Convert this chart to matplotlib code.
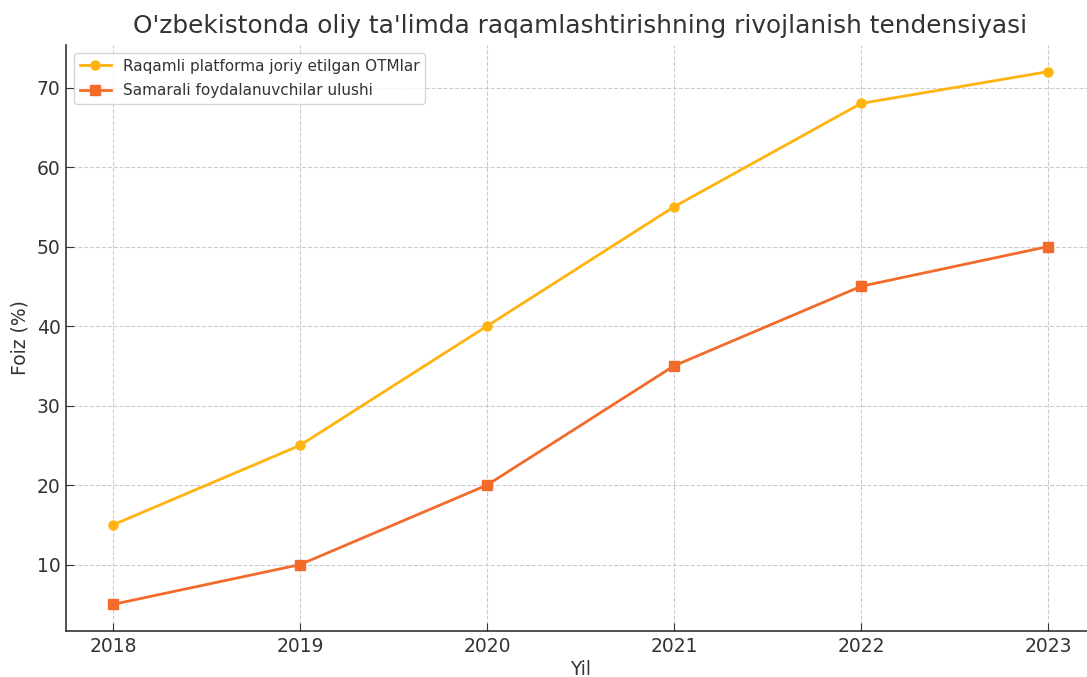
import matplotlib
matplotlib.use("Agg")
import matplotlib.pyplot as plt

years = [2018, 2019, 2020, 2021, 2022, 2023]
platform_otm = [15, 25, 40, 55, 68, 72]
samarali_ulush = [5, 10, 20, 35, 45, 50]

label_platform = "Raqamli platforma joriy etilgan OTMlar"
label_samarali = "Samarali foydalanuvchilar ulushi"
title = "O'zbekistonda oliy ta'limda raqamlashtirishning rivojlanish tendensiyasi"

plt.rcParams['font.family'] = ['DejaVu Sans']
text_col = '#333333'

fig = plt.figure(figsize=(10.87, 6.77), dpi=100)
ax = fig.add_axes([0.0609, 0.0679, 0.9462, 0.8656])

ax.plot(years, platform_otm, color='#FFB30F', marker='o', markersize=6.5,
        linewidth=2, label=label_platform)
ax.plot(years, samarali_ulush, color='#F26B2A', marker='s', markersize=6.5,
        linewidth=2, label=label_samarali)

ax.set_xticks(years)
ax.set_yticks([10, 20, 30, 40, 50, 60, 70])
ax.tick_params(labelsize=13.5, colors=text_col, direction='in', length=6, pad=4)
ax.set_xlabel("Yil", fontsize=13.5, color=text_col)
ax.set_ylabel("Foiz (%)", fontsize=13.5, color=text_col)
ax.xaxis.set_label_coords(0.5, -0.049)
ax.yaxis.set_label_coords(-0.036, 0.5)
fig.text(0.534, 0.962, title, fontsize=17.8, color=text_col,
         ha='center', va='center')

ax.grid(True, linestyle='--', color='#cccccc', linewidth=0.8)
for s in ['top', 'right']:
    ax.spines[s].set_visible(False)
for s in ['left', 'bottom']:
    ax.spines[s].set_color(text_col)
    ax.spines[s].set_linewidth(1.2)

leg = ax.legend(loc='upper left', fontsize=11, frameon=True,
                borderaxespad=0.5, labelspacing=0.6)
for t in leg.get_texts():
    t.set_color(text_col)

fig.savefig("out.png", dpi=100)
